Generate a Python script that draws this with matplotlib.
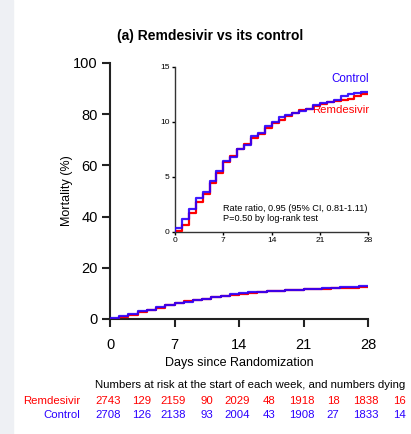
import matplotlib
matplotlib.use('Agg')
import matplotlib.pyplot as plt
from matplotlib.patches import Rectangle

plt.rcParams['font.family'] = ['Liberation Sans', 'DejaVu Sans']

# cumulative mortality (%) at start of each day, days 0..27 (last value held to day 28)
days = list(range(29))
control = [0.3, 1.2, 2.1, 3.1, 3.6, 4.6, 5.5, 6.4, 6.8, 7.5, 7.9, 8.7, 9.0, 9.6,
           10.0, 10.4, 10.6, 10.8, 11.0, 11.2, 11.5, 11.7, 11.8, 12.0, 12.3, 12.5,
           12.6, 12.7]
remdesivir = [0.1, 0.6, 1.7, 2.7, 3.4, 4.4, 5.3, 6.3, 6.9, 7.5, 8.0, 8.5, 8.9, 9.4,
              9.9, 10.2, 10.5, 10.8, 11.1, 11.2, 11.4, 11.6, 11.8, 11.9, 12.0, 12.1,
              12.3, 12.5]

risk_rem = ['2743', '129', '2159', '90', '2029', '48', '1918', '18', '1838', '16']
risk_ctl = ['2708', '126', '2138', '93', '2004', '43', '1908', '27', '1833', '14']
risk_x = [108, 141.5, 173, 206.5, 237, 269, 302, 333, 365.5, 399]

RED = '#ff0000'
BLUE = '#2a00ff'

W, H = 411, 434
fig = plt.figure(figsize=(W / 100, H / 100), dpi=100)
fig.patches.append(Rectangle((0, 0), 13 / W, 1, transform=fig.transFigure,
                             color='#eef0f4', zorder=-1))


def step_xy(vals):
    return [0] + days, [0] + vals + [vals[-1]]


def draw_curves(ax, lw):
    x, y = step_xy(remdesivir)
    ax.step(x, y, where='post', color=RED, lw=lw, zorder=3)
    x, y = step_xy(control)
    ax.step(x, y, where='post', color=BLUE, lw=lw, zorder=4, alpha=0.9)


# main axes
ax = fig.add_axes([110 / W, 1 - 319 / H, 258 / W, 256 / H])
draw_curves(ax, 1.6)
ax.set_xlim(0, 28)
ax.set_ylim(0, 100)
ax.set_xticks([0, 7, 14, 21, 28])
ax.set_yticks([0, 20, 40, 60, 80, 100])
for s in ['top', 'right']:
    ax.spines[s].set_visible(False)
for s in ['left', 'bottom']:
    ax.spines[s].set_linewidth(1.5)
    ax.spines[s].set_color('#222222')
ax.tick_params(direction='out', length=6, width=1.5, labelsize=10.5, color='#222222', pad=3)
ax.tick_params(axis='x', pad=8)
ax.set_xlabel('Days since Randomization', fontsize=9, labelpad=3)
ax.set_ylabel('Mortality (%)', fontsize=9, labelpad=0)
fig.text(210 / W, 1 - 36 / H, '(a) Remdesivir vs its control', fontsize=10,
         fontweight='bold', ha='center', va='center')

# inset
ins = fig.add_axes([175 / W, 1 - 231.7 / H, 193.3 / W, 165 / H])
draw_curves(ins, 1.6)
ins.set_xlim(0, 28)
ins.set_ylim(0, 15)
ins.set_xticks([0, 7, 14, 21, 28])
ins.set_yticks([0, 5, 10, 15])
ins.patch.set_alpha(0)
for s in ['top', 'right']:
    ins.spines[s].set_visible(False)
for s in ['left', 'bottom']:
    ins.spines[s].set_linewidth(1.0)
    ins.spines[s].set_color('#333333')
ins.tick_params(direction='out', length=2.5, width=1.0, labelsize=6, pad=1.5)
ins.text(7.0, 2.1, 'Rate ratio, 0.95 (95% CI, 0.81-1.11)', fontsize=6.6, va='center')
ins.text(7.0, 1.2, 'P=0.50 by log-rank test', fontsize=6.6, va='center')
ins.text(28.1, 13.9, 'Control', color=BLUE, fontsize=8.4, ha='right', va='center')
ins.text(28.2, 11.1, 'Remdesivir', color=RED, fontsize=8.2, ha='right', va='center')

# numbers at risk
fs = 8.2
fig.text(95 / W, 1 - 385.5 / H, 'Numbers at risk at the start of each week, and numbers dying',
         fontsize=fs, va='center', ha='left')
fig.text(80 / W, 1 - 401.5 / H, 'Remdesivir', color=RED, fontsize=fs, va='center', ha='right')
fig.text(80 / W, 1 - 415.5 / H, 'Control', color=BLUE, fontsize=fs, va='center', ha='right')
for xp, a, b in zip(risk_x, risk_rem, risk_ctl):
    fig.text(xp / W, 1 - 401.5 / H, a, color=RED, fontsize=fs, va='center', ha='center')
    fig.text(xp / W, 1 - 415.5 / H, b, color=BLUE, fontsize=fs, va='center', ha='center')

fig.savefig('out.png', dpi=100)
